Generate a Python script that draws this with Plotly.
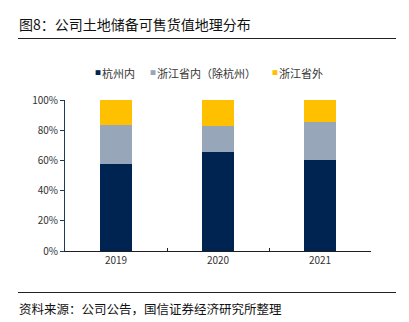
import plotly.graph_objects as go

years = ["2019", "2020", "2021"]
hangzhou = [0.576, 0.654, 0.601]
zj_ex_hz = [0.260, 0.176, 0.251]
outside_zj = [0.164, 0.170, 0.148]
series_names = ["杭州内", "浙江省内（除杭州）", "浙江省外"]
colors = ["#002452", "#97A7B9", "#FFC000"]
y_ticks = [0, 0.2, 0.4, 0.6, 0.8, 1.0]
y_tick_labels = ["0%", "20%", "40%", "60%", "80%", "100%"]

W, H = 409, 322
L, R, T, B = 65, 38, 100, 71
pw, ph = W - L - R, H - T - B

def px(x):
    return (x - L) / pw

def py(y):
    return (H - B - y) / ph

font = "Noto Sans CJK SC"
fig = go.Figure()
for name, vals, c in zip(series_names, [hangzhou, zj_ex_hz, outside_zj], colors):
    fig.add_trace(go.Bar(x=years, y=vals, name=name, marker=dict(color=c, line=dict(width=0)),
                         width=0.31, showlegend=False))

# legend drawn as annotations (small square + label)
legend_sq_x = [93, 148, 270]
legend_txt_x = [99.5, 154.5, 276.5]
legend_ann = []
for name, c, sx, tx in zip(series_names, colors, legend_sq_x, legend_txt_x):
    legend_ann.append(dict(text="■", xref="paper", yref="paper", x=px(sx), y=py(72.5),
                           xanchor="left", yanchor="middle", showarrow=False,
                           font=dict(size=6, color=c, family=font)))
    legend_ann.append(dict(text=name, xref="paper", yref="paper", x=px(tx), y=py(72.5),
                           xanchor="left", yanchor="middle", showarrow=False,
                           font=dict(size=11, color="#333333", family=font)))

fig.update_layout(
    width=W, height=H, margin=dict(l=L, r=R, t=T, b=B),
    barmode="stack", plot_bgcolor="white", paper_bgcolor="white",
    font=dict(family=font, size=10, color="#333333"),
    showlegend=False,
    xaxis=dict(type="category", range=[-0.5, 2.5], showline=True, linecolor="#1f1f1f", linewidth=1,
               ticks="inside", tickson="boundaries", ticklen=3, tickcolor="#1f1f1f",
               tickfont=dict(size=10, color="#333333"), showgrid=False),
    yaxis=dict(range=[0, 1], tickvals=y_ticks, ticktext=y_tick_labels, showline=True,
               linecolor="#1f3a5c", linewidth=1, ticks="outside", ticklen=4, tickcolor="#1f3a5c",
               tickfont=dict(size=10, color="#333333"), showgrid=False, zeroline=False),
    shapes=[
        dict(type="line", xref="paper", yref="paper", x0=px(18), x1=px(396), y0=py(38.5), y1=py(38.5),
             line=dict(color="#222222", width=1)),
        dict(type="line", xref="paper", yref="paper", x0=px(18), x1=px(396), y0=py(292.5), y1=py(292.5),
             line=dict(color="#222222", width=1)),
    ],
    annotations=[
        dict(text="图8：公司土地储备可售货值地理分布", xref="paper", yref="paper", x=px(17), y=py(24),
             xanchor="left", yanchor="middle", showarrow=False, font=dict(size=14, color="#111111", family=font)),
        dict(text="资料来源：公司公告，国信证券经济研究所整理", xref="paper", yref="paper", x=px(17), y=py(308),
             xanchor="left", yanchor="middle", showarrow=False, font=dict(size=12.5, color="#111111", family=font)),
    ] + legend_ann,
)

fig.write_html("out.html")
